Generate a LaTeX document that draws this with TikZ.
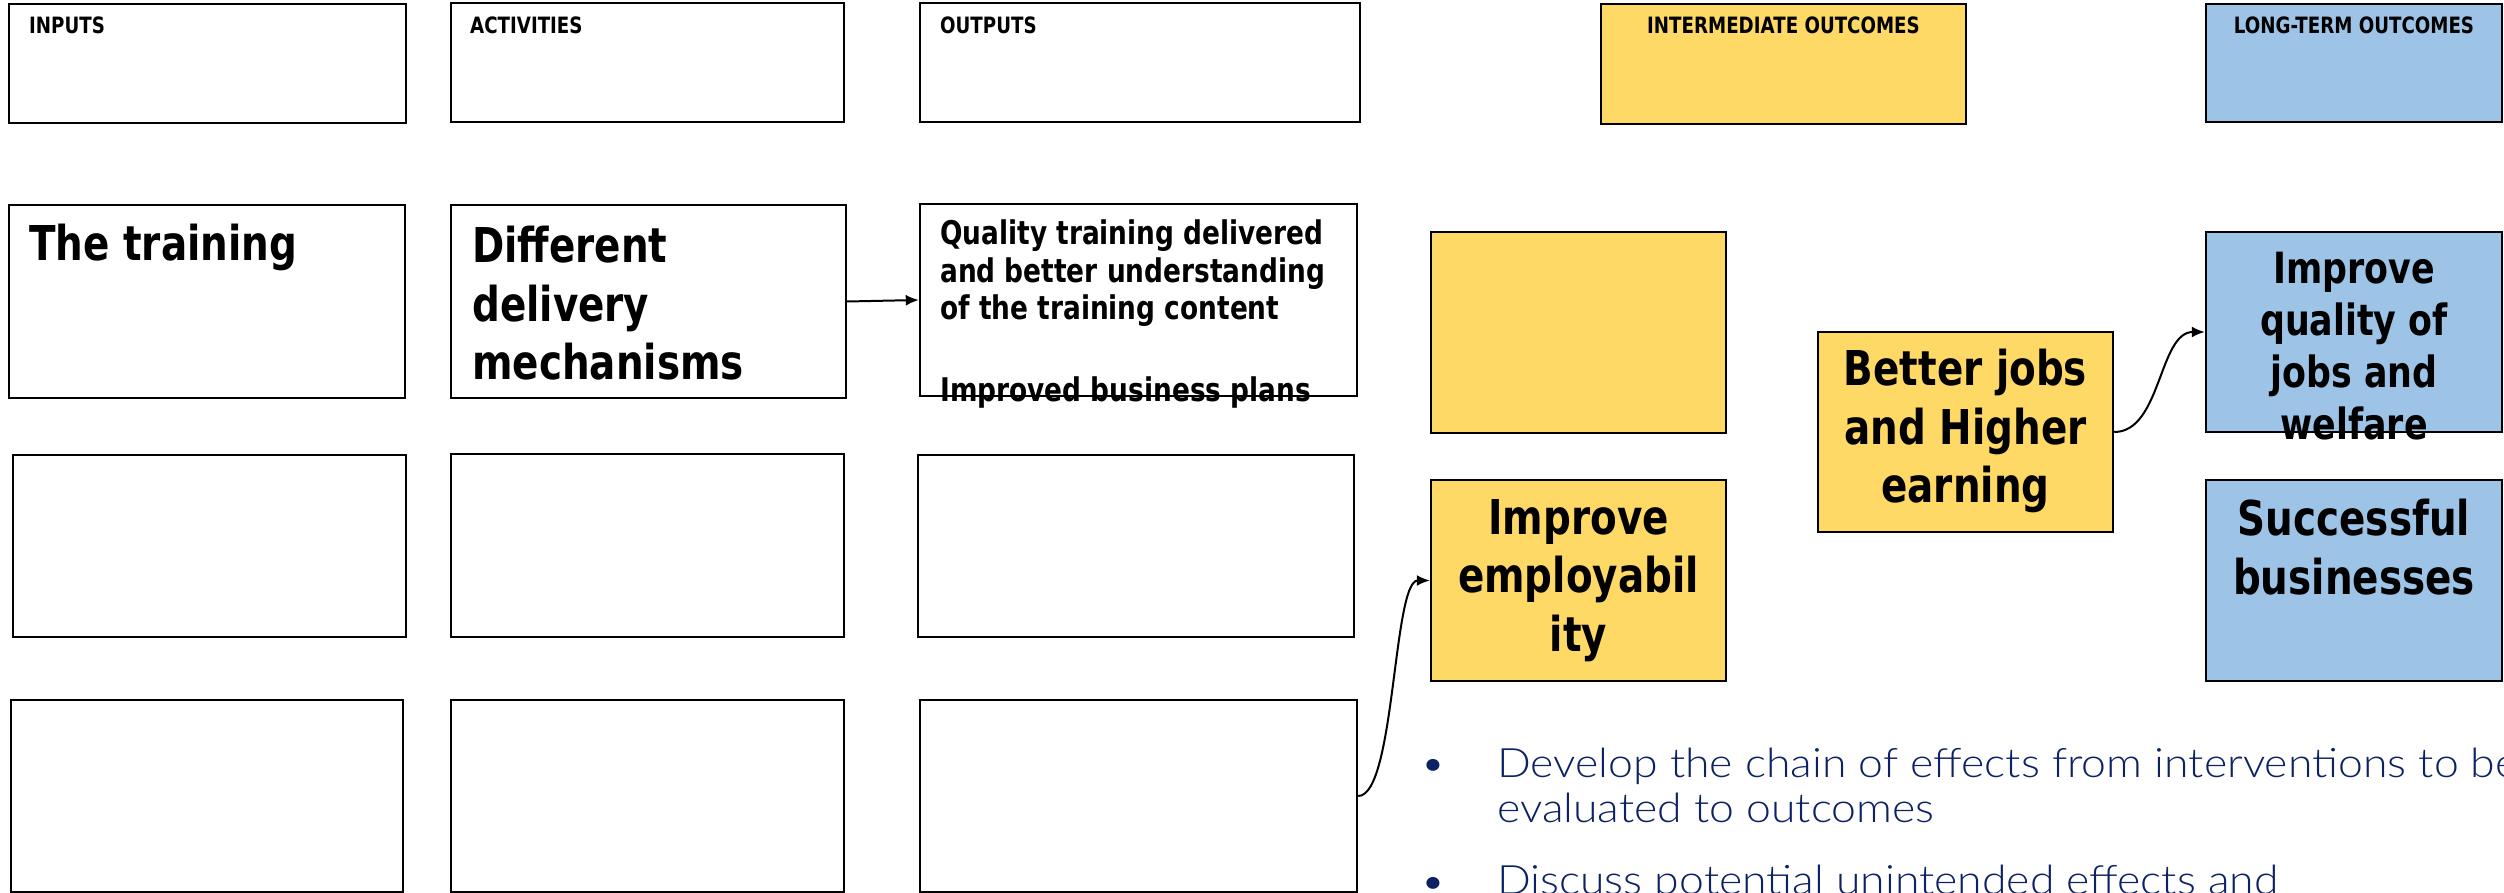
\documentclass[tikz,border=0pt]{standalone}
\usepackage{fontspec}
\newfontfamily\boxfont{DejaVu Sans}[FakeStretch=0.81]
\IfFontExistsTF{Lato Light}{\newfontfamily\bulfont{Lato Light}[FakeStretch=1.10]}{\newfontfamily\bulfont{Lato}[FakeStretch=1.10]}
\usetikzlibrary{arrows.meta}
\definecolor{ylw}{HTML}{FFD966}
\definecolor{lblue}{HTML}{9DC3E6}
\definecolor{navy}{RGB}{12,34,100}
\begin{document}
\begin{tikzpicture}[x=1pt,y=-1pt,
  bx/.style={draw=black, line width=2.4pt, inner sep=0pt},
  sz/.style 2 args={minimum width=#1pt, minimum height=#2pt},
  yfill/.style={fill=ylw},
  bfill/.style={fill=lblue},
  hdr/.style={font=\boxfont\bfseries\fontsize{22.5}{26}\selectfont, inner sep=0pt},
  big/.style={font=\boxfont\bfseries\fontsize{48}{58.5}\selectfont, inner sep=0pt, align=center},
  bigs/.style={font=\boxfont\bfseries\fontsize{43}{52}\selectfont, inner sep=0pt, align=center},
  mid/.style={font=\boxfont\bfseries\fontsize{32.6}{37.5}\selectfont, inner sep=0pt, align=left},
  bul/.style={font=\bulfont\fontsize{40.5}{45}\selectfont, text=navy, inner sep=0pt},
  conn/.style={draw=black, line width=2pt, -{Latex[length=13pt,width=11pt]}}
]
\fill[white] (0,0) rectangle (2504,893);
\useasboundingbox (0,0) rectangle (2504,893);

% header boxes
\node[bx, sz={397}{119}] (hIn) at (207.5,63.5) {};
\node[bx, sz={393}{119}] (hAct) at (647.5,62.5) {};
\node[bx, sz={440}{119}] (hOut) at (1140,62.5) {};
\node[bx, yfill, sz={365}{120}] (hInt) at (1783.5,64) {};
\node[bx, bfill, sz={296}{118}] (hLong) at (2354,63) {};

\node[hdr, anchor=base west] (hInT) at (29,34) {INPUTS};
\node[hdr, anchor=base west] (hActT) at (470,34) {ACTIVITIES};
\node[hdr, anchor=base west] (hOutT) at (940,34) {OUTPUTS};
\node[hdr, anchor=base] (hIntT) at (1783.5,34) {INTERMEDIATE OUTCOMES};
\node[hdr, anchor=base] (hLongT) at (2354,34) {LONG-TERM OUTCOMES};

% row 1
\node[bx, sz={396}{193}] (r1a) at (207,301.5) {};
\node[bx, sz={395}{193}] (r1b) at (648.5,301.5) {};
\node[bx, sz={437}{192}] (r1c) at (1138.5,300) {};
\node[bx, yfill, sz={295}{201}] (yE) at (1578.5,332.5) {};
\node[bx, yfill, sz={295}{200}] (better) at (1965.5,432) {};
\node[bx, bfill, sz={296}{200}] (impq) at (2354,332) {};

% row 2
\node[bx, sz={393}{182}] (r2a) at (209.5,546) {};
\node[bx, sz={393}{183}] (r2b) at (647.5,545.5) {};
\node[bx, sz={436}{182}] (r2c) at (1136,546) {};
\node[bx, yfill, sz={295}{201}] (emp) at (1578.5,580.5) {};
\node[bx, bfill, sz={296}{201}] (succ) at (2354,580.5) {};

% row 3
\node[bx, sz={392}{192}] (r3a) at (207,796) {};
\node[bx, sz={393}{192}] (r3b) at (647.5,796) {};
\node[bx, sz={437}{192}] (r3c) at (1138.5,796) {};

% box texts
\node[big, anchor=base west] (trainT) at (29,261) {The training};
\node[big, align=left, anchor=north west] (delivT) at (472,226) {Different\\delivery\\mechanisms};
\node[mid, anchor=north west] (qualT) at (940,220) {Quality training delivered\\and better understanding\\of the training content\\[44pt]Improved business plans};
\node[big, anchor=north] (betterT) at (1965.5,349) {Better jobs\\and Higher\\earning};
\node[bigs, anchor=north] (impqT) at (2354,252) {Improve\\quality of\\jobs and\\welfare};
\node[big, anchor=north] (empT) at (1578.5,499) {Improve\\employabil\\ity};
\node[big, anchor=north] (succT) at (2354,499) {Successful\\businesses};

% connectors
\draw[conn] (r1b.east) -- (r1c.west);
\draw[conn] (r3c.east) .. controls +(37,0) and +(-37,0) .. (emp.west);
\draw[conn] (better.east) .. controls +(47,0) and +(-46,0) .. (impq.west);

% bullets
\node[bul, anchor=base] (d1) at (1433,777) {•};
\node[bul, anchor=base west] (b1a) at (1497,777) {Develop the chain of effects from interventions to be};
\node[bul, anchor=base west] (b1b) at (1497,822) {evaluated to outcomes};
\node[bul, anchor=base] (d2) at (1433,895) {•};
\node[bul, anchor=base west] (b2a) at (1497,894) {Discuss potential unintended effects and};
\end{tikzpicture}
\end{document}
